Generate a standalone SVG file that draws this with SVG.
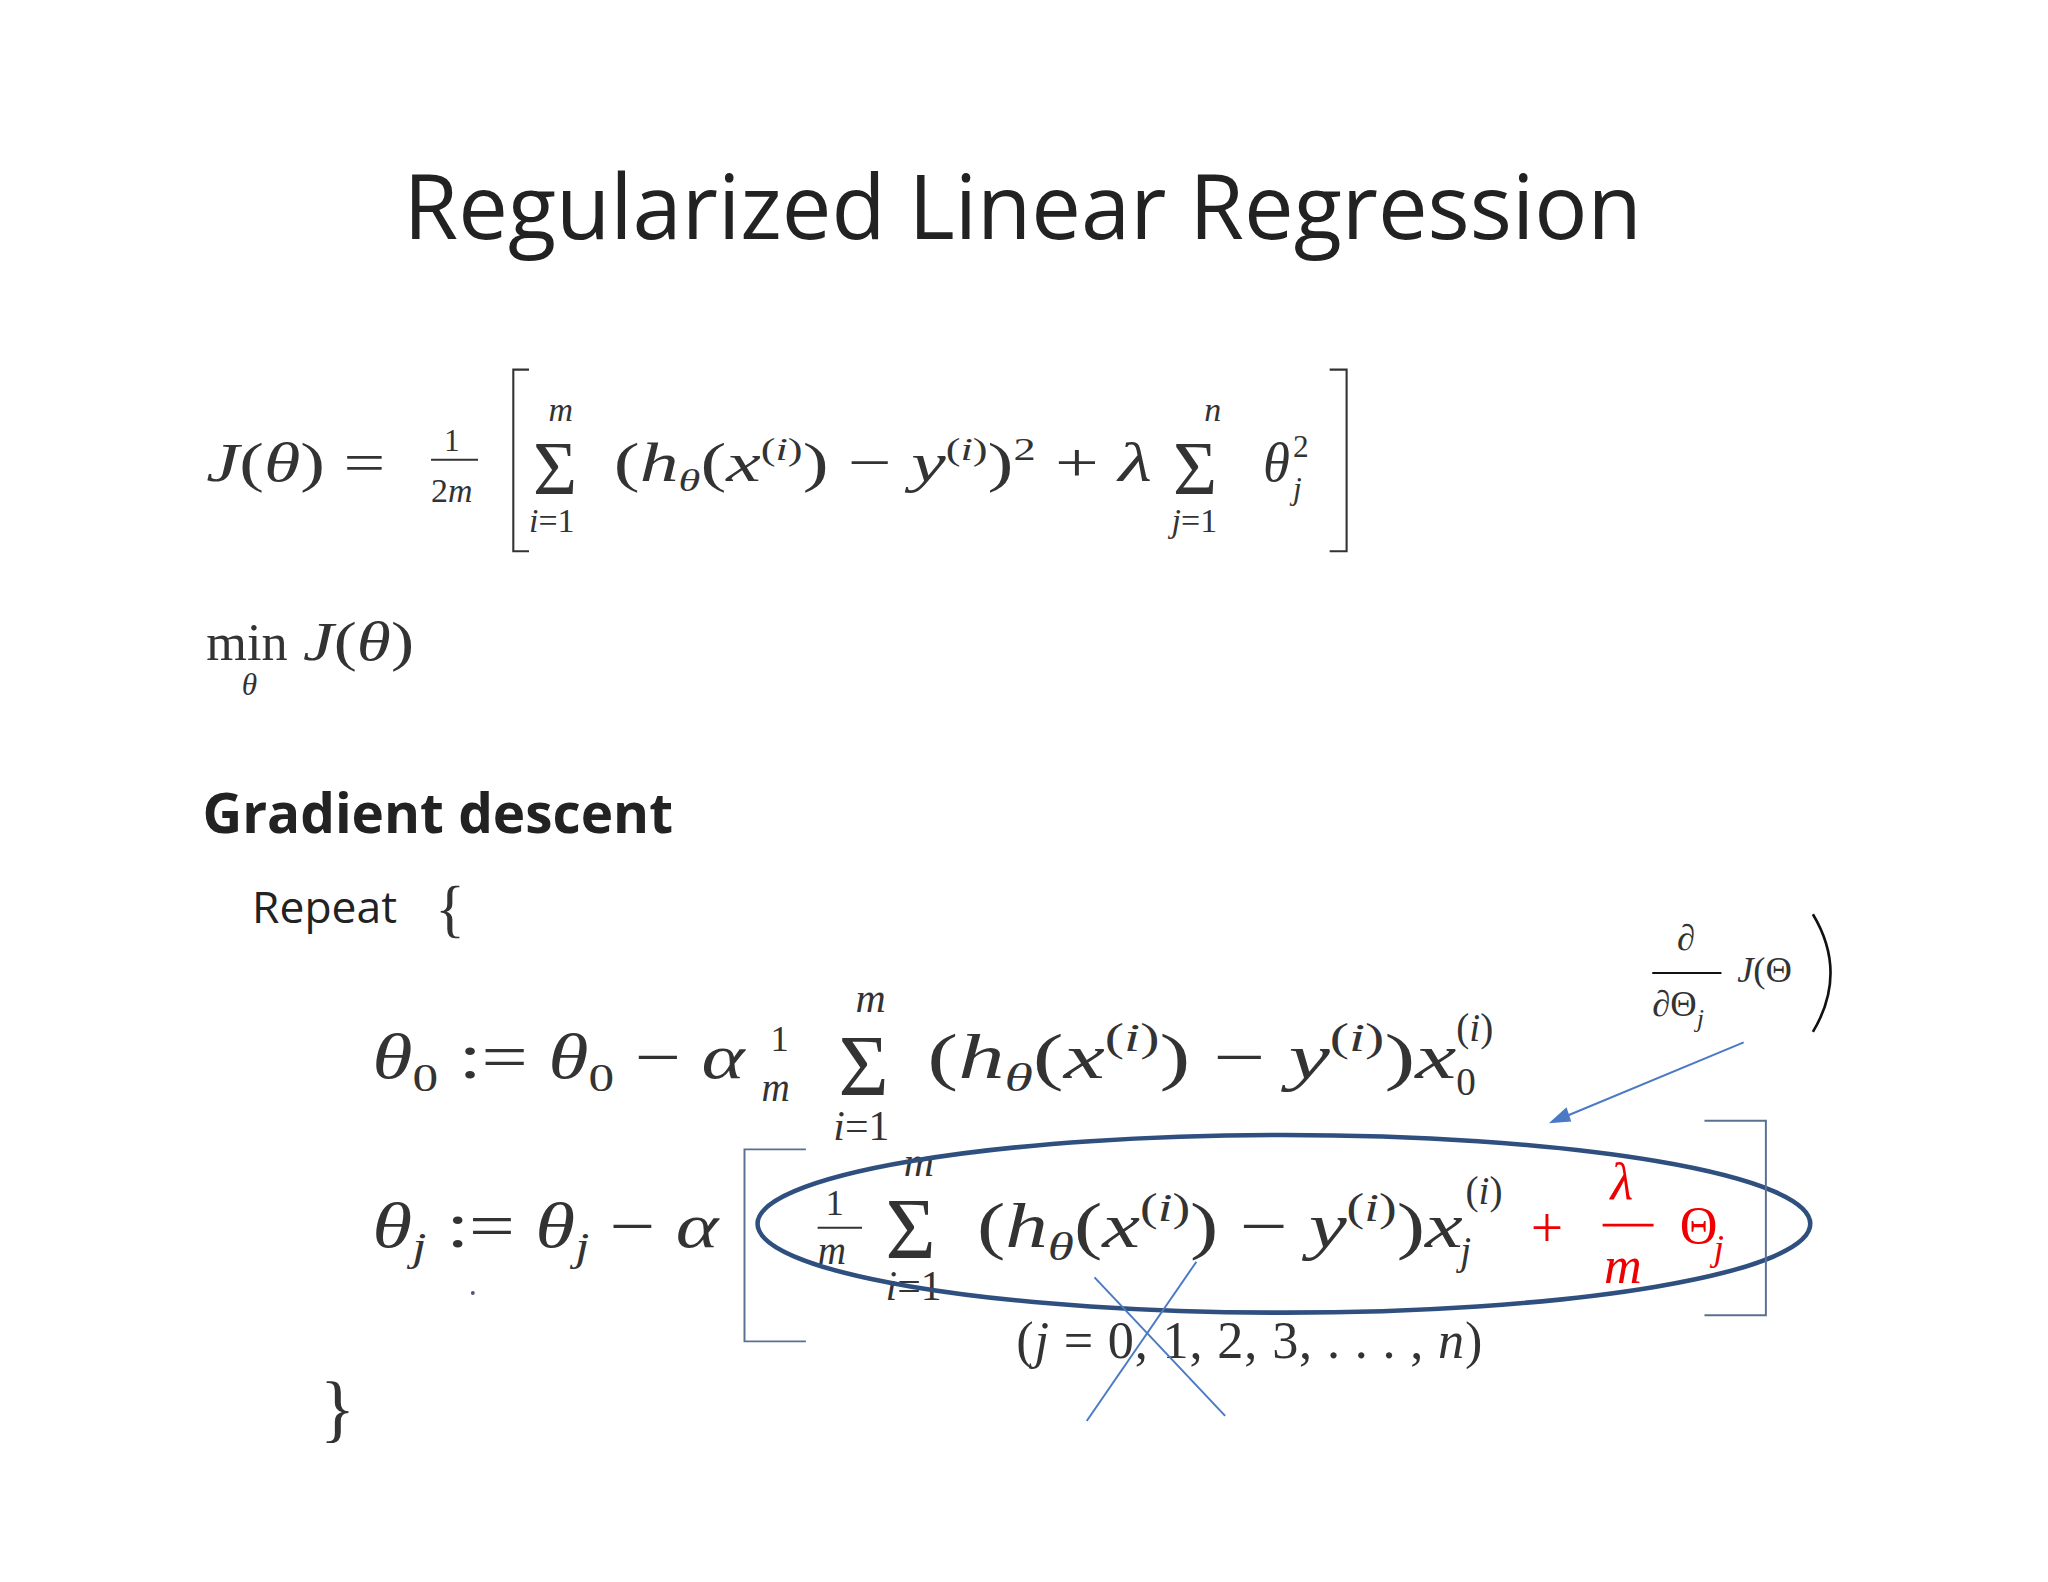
<svg xmlns="http://www.w3.org/2000/svg" width="2048" height="1582" viewBox="0 0 2048 1582">
<style>
.m{font-family:"Liberation Serif","DejaVu Serif",serif;font-style:italic;fill:#333}
.r{font-family:"Liberation Serif","DejaVu Serif",serif;fill:#333}
.red{font-family:"Liberation Serif","DejaVu Serif",serif;fill:#e00}
.s{font-family:"Open Sans","Liberation Sans",sans-serif;fill:#222}
.ln{stroke:#333;stroke-width:1.6;fill:none}
</style>
<rect width="2048" height="1582" fill="#fff"/>
<g transform="scale(1.30612)">
<g id="title"><text x="783" y="183" text-anchor="middle" class="s" font-size="68" textLength="948" lengthAdjust="spacingAndGlyphs">Regularized Linear Regression</text></g>
<g id="cost">
<text x="158" y="368" font-size="42" textLength="137" lengthAdjust="spacingAndGlyphs"><tspan class="m">J</tspan><tspan class="r">(</tspan><tspan class="m">θ</tspan><tspan class="r">) =</tspan></text>
<text x="340" y="345" class="r" font-size="24">1</text><line x1="330" y1="352" x2="366" y2="352" class="ln"/><text x="330" y="384" class="r" font-size="26">2<tspan class="m">m</tspan></text>
<path d="M405 283 H393 V422 H405" class="ln" stroke-width="2.5"/>
<text x="408" y="378" class="r" font-size="58">Σ</text><text x="420" y="322" class="m" font-size="26">m</text><text x="405" y="407" font-size="26"><tspan class="m">i</tspan><tspan class="r">=1</tspan></text>
<text x="470" y="368" font-size="42" textLength="412" lengthAdjust="spacingAndGlyphs"><tspan class="r">(</tspan><tspan class="m">h</tspan><tspan class="m" font-size="24" dy="8">θ</tspan><tspan class="r" dy="-8">(</tspan><tspan class="m">x</tspan><tspan class="r" font-size="24" dy="-16">(</tspan><tspan class="m" font-size="24">i</tspan><tspan class="r" font-size="24">)</tspan><tspan class="r" dy="16">) − </tspan><tspan class="m">y</tspan><tspan class="r" font-size="24" dy="-16">(</tspan><tspan class="m" font-size="24">i</tspan><tspan class="r" font-size="24">)</tspan><tspan class="r" dy="16">)</tspan><tspan class="r" font-size="24" dy="-16">2</tspan><tspan class="r" dy="16"> + </tspan><tspan class="m">λ</tspan></text>
<text x="898" y="378" class="r" font-size="58">Σ</text><text x="922" y="322" class="m" font-size="26">n</text><text x="897" y="407" font-size="26"><tspan class="m">j</tspan><tspan class="r">=1</tspan></text>
<text x="967" y="368" class="m" font-size="42">θ</text><text x="990" y="350" class="r" font-size="24">2</text><text x="990" y="382" class="m" font-size="24">j</text>
<path d="M1018 283 H1031 V422 H1018" class="ln" stroke-width="2.5"/>
</g>
<g id="min"><text x="158" y="505" class="r" font-size="40">min</text><text x="185" y="532" class="m" font-size="24">θ</text><text x="232" y="505" font-size="42" textLength="85" lengthAdjust="spacingAndGlyphs"><tspan class="m">J</tspan><tspan class="r">(</tspan><tspan class="m">θ</tspan><tspan class="r">)</tspan></text></g>
<g id="gd"><text x="155" y="638" class="s" font-size="42" font-weight="bold">Gradient descent</text>
<text x="193" y="707" class="s" font-size="34">Repeat</text><text x="333" y="712" class="r" font-size="48">{</text></g>
<g id="theta0">
<text x="285" y="825" font-size="48" textLength="285" lengthAdjust="spacingAndGlyphs"><tspan class="m">θ</tspan><tspan class="r" font-size="30" dy="10">0</tspan><tspan class="r" dy="-10"> := </tspan><tspan class="m">θ</tspan><tspan class="r" font-size="30" dy="10">0</tspan><tspan class="r" dy="-10"> − </tspan><tspan class="m">α</tspan></text>
<text x="590" y="805" class="r" font-size="28">1</text><text x="583" y="843" class="m" font-size="30">m</text>
<text x="642" y="838" class="r" font-size="66">Σ</text><text x="655" y="775" class="m" font-size="32">m</text><text x="638" y="873" font-size="32"><tspan class="m">i</tspan><tspan class="r">=1</tspan></text>
<text x="710" y="825" font-size="48" textLength="405" lengthAdjust="spacingAndGlyphs"><tspan class="r">(</tspan><tspan class="m">h</tspan><tspan class="m" font-size="30" dy="10">θ</tspan><tspan class="r" dy="-10">(</tspan><tspan class="m">x</tspan><tspan class="r" font-size="30" dy="-20">(</tspan><tspan class="m" font-size="30">i</tspan><tspan class="r" font-size="30">)</tspan><tspan class="r" dy="20">) − </tspan><tspan class="m">y</tspan><tspan class="r" font-size="30" dy="-20">(</tspan><tspan class="m" font-size="30">i</tspan><tspan class="r" font-size="30">)</tspan><tspan class="r" dy="20">)</tspan><tspan class="m">x</tspan></text>
<text x="1115" y="797" font-size="30"><tspan class="r">(</tspan><tspan class="m">i</tspan><tspan class="r">)</tspan></text><text x="1115" y="838" class="r" font-size="30">0</text>
</g>
<g id="thetaj">
<text x="285" y="955" font-size="48" textLength="265" lengthAdjust="spacingAndGlyphs"><tspan class="m">θ</tspan><tspan class="m" font-size="30" dy="10">j</tspan><tspan class="r" dy="-10"> := </tspan><tspan class="m">θ</tspan><tspan class="m" font-size="30" dy="10">j</tspan><tspan class="r" dy="-10"> − </tspan><tspan class="m">α</tspan></text>
<circle cx="362" cy="990" r="1.5" fill="#557"/>
<text x="632" y="930" class="r" font-size="28">1</text><line x1="626" y1="940" x2="660" y2="940" class="ln"/><text x="626" y="968" class="m" font-size="30">m</text>
<text x="678" y="963" class="r" font-size="66">Σ</text><text x="692" y="900" class="m" font-size="32">m</text><text x="678" y="995" font-size="32"><tspan class="m">i</tspan><tspan class="r">=1</tspan></text>
<text x="748" y="955" font-size="48" textLength="372" lengthAdjust="spacingAndGlyphs"><tspan class="r">(</tspan><tspan class="m">h</tspan><tspan class="m" font-size="30" dy="10">θ</tspan><tspan class="r" dy="-10">(</tspan><tspan class="m">x</tspan><tspan class="r" font-size="30" dy="-20">(</tspan><tspan class="m" font-size="30">i</tspan><tspan class="r" font-size="30">)</tspan><tspan class="r" dy="20">) − </tspan><tspan class="m">y</tspan><tspan class="r" font-size="30" dy="-20">(</tspan><tspan class="m" font-size="30">i</tspan><tspan class="r" font-size="30">)</tspan><tspan class="r" dy="20">)</tspan><tspan class="m">x</tspan></text>
<text x="1122" y="922" font-size="30"><tspan class="r">(</tspan><tspan class="m">i</tspan><tspan class="r">)</tspan></text><text x="1118" y="968" class="m" font-size="30">j</text>
<text x="778" y="1040" font-size="40" textLength="357"><tspan class="r">(</tspan><tspan class="m">j</tspan><tspan class="r"> = 0, 1, 2, 3, . . . , </tspan><tspan class="m">n</tspan><tspan class="r">)</tspan></text>
<text x="245" y="1097" class="r" font-size="56">}</text>
</g>
<g id="red">
<text x="1172" y="955" class="red" font-size="44">+</text>
<text x="1233" y="918" class="red" font-size="40" font-style="italic">λ</text>
<line x1="1227" y1="938" x2="1266" y2="938" stroke="#e00" stroke-width="2"/>
<text x="1228" y="982" class="red" font-size="40" font-style="italic">m</text>
<text x="1286" y="952" class="red" font-size="40">Θ</text><text x="1312" y="965" class="red" font-size="28" font-style="italic">j</text>
</g>
<g id="annot">
<text x="1284" y="727" class="m" font-size="28" fill="#111">∂</text>
<line x1="1265" y1="745" x2="1318" y2="745" stroke="#111" stroke-width="1.5"/>
<text x="1265" y="778" font-size="28" fill="#111"><tspan class="m">∂</tspan><tspan class="r">Θ</tspan><tspan class="m" font-size="20" dy="8">j</tspan></text>
<text x="1330" y="752" font-size="28" fill="#111"><tspan class="m">J</tspan><tspan class="r">(Θ</tspan></text>
<path d="M1388 700 Q1415 745 1388 790" fill="none" stroke="#111" stroke-width="2"/>
</g>
<g id="connectors" stroke="#4a7ac4" stroke-width="1.5" fill="none">
<line x1="1335" y1="798" x2="1198" y2="855"/>
<path d="M1188 859 L1199 849 L1202 858 Z" fill="#4a7ac4"/>
<ellipse cx="983" cy="937" rx="403" ry="68" stroke="#2f4f7f" stroke-width="3.5"/>
<path d="M617 880 H570 V1027 H617" stroke="#5a7090" stroke-width="1.5"/>
<path d="M1305 858 H1352 V1007 H1305" stroke="#5a7090" stroke-width="1.5"/>
<line x1="832" y1="1088" x2="916" y2="966"/>
<line x1="838" y1="978" x2="938" y2="1084"/>
</g>
</g>
</svg>
